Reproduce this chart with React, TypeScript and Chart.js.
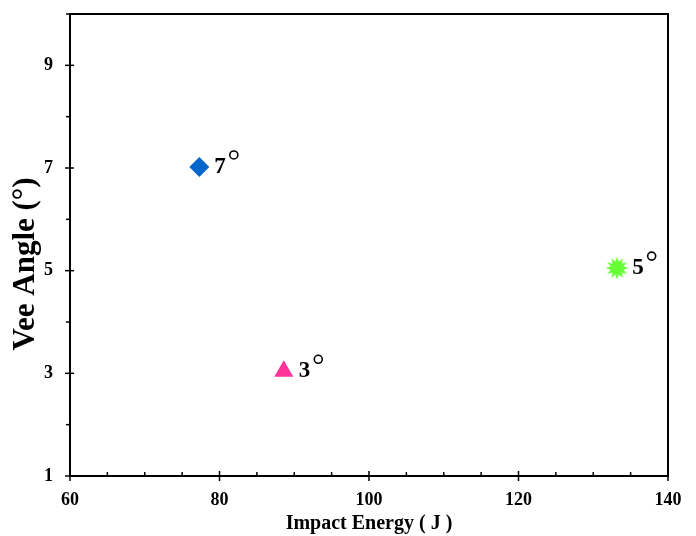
import React, { useEffect, useRef } from "react";
import { Chart, registerables } from "chart.js";

Chart.register(...registerables);

const seriesNames = ["7°", "3°", "5°"];
const labelTexts = ["7", "3", "5"];
const impactEnergy = [77.3, 88.6, 133.2];
const veeAngle = [7.02, 3.04, 5.05];
const colors = ["#0066CC", "#FF3399", "#66FF33"];
const xTickLabels = [60, 80, 100, 120, 140];
const yTickLabels = [1, 3, 5, 7, 9];
const yTitle = "Vee Angle (°)";
const xTitle = "Impact Energy ( J )";

const SERIF = "'Liberation Serif', 'Times New Roman', serif";

function makeStar(color: string): HTMLCanvasElement {
  const c = document.createElement("canvas");
  c.width = 26;
  c.height = 26;
  const ctx = c.getContext("2d")!;
  const cx = 13, cy = 13, ro = 11.5, ri = 6.5, n = 12;
  ctx.beginPath();
  for (let i = 0; i < n * 2; i++) {
    const r = i % 2 === 0 ? ro : ri;
    const a = (Math.PI * i) / n - Math.PI / 2;
    const px = cx + r * Math.cos(a);
    const py = cy + r * Math.sin(a);
    if (i === 0) ctx.moveTo(px, py);
    else ctx.lineTo(px, py);
  }
  ctx.closePath();
  ctx.fillStyle = color;
  ctx.fill();
  return c;
}

const framePlugin = {
  id: "frame",
  afterDraw(chart: any) {
    const { ctx, chartArea: a, scales } = chart;
    const xs = scales.x, ys = scales.y;
    ctx.save();
    ctx.strokeStyle = "#000";
    ctx.lineWidth = 2;
    ctx.strokeRect(a.left, a.top, a.right - a.left, a.bottom - a.top);
    ctx.lineWidth = 1.5;
    // x ticks
    for (let v = 60; v <= 140; v += 5) {
      const px = xs.getPixelForValue(v);
      const major = v % 20 === 0;
      ctx.beginPath();
      ctx.moveTo(px, a.bottom + (major ? 5 : 0));
      ctx.lineTo(px, a.bottom - (major ? 5 : 4));
      ctx.stroke();
    }
    // y ticks
    for (let v = 1; v <= 10; v += 1) {
      const py = ys.getPixelForValue(v);
      const major = v % 2 === 1;
      ctx.beginPath();
      ctx.moveTo(a.left + (major ? 4 : 0), py);
      ctx.lineTo(a.left - (major ? 5 : 4), py);
      ctx.stroke();
    }
    // y title
    ctx.save();
    ctx.translate(34, 264);
    ctx.rotate(-Math.PI / 2);
    ctx.font = `bold 31px ${SERIF}`;
    ctx.fillStyle = "#000";
    ctx.textAlign = "center";
    ctx.textBaseline = "alphabetic";
    ctx.fillText(yTitle, 0, 0);
    ctx.restore();
    // point labels
    chart.data.datasets.forEach((ds: any, i: number) => {
      const meta = chart.getDatasetMeta(i);
      const el = meta.data[0];
      if (!el) return;
      const tx = el.x + 15;
      const ty = el.y + 6;
      ctx.font = `bold 23px ${SERIF}`;
      ctx.fillStyle = "#000";
      ctx.textAlign = "left";
      ctx.textBaseline = "alphabetic";
      ctx.fillText(labelTexts[i], tx, ty);
      const w = ctx.measureText(labelTexts[i]).width;
      ctx.beginPath();
      ctx.lineWidth = 1.6;
      ctx.arc(tx + w + 8, el.y - 12, 4, 0, Math.PI * 2);
      ctx.stroke();
    });
    ctx.restore();
  },
};

export default function App() {
  const ref = useRef<HTMLCanvasElement>(null);
  useEffect(() => {
    document.body.style.margin = "0";
    const stars = makeStar(colors[2]);
    const chart = new Chart(ref.current!, {
      type: "scatter",
      data: {
        datasets: seriesNames.map((name, i) => ({
          label: name,
          data: [{ x: impactEnergy[i], y: veeAngle[i] }],
          backgroundColor: colors[i],
          borderColor: colors[i],
          borderWidth: 0,
          pointStyle: i === 0 ? "rectRot" : i === 1 ? "triangle" : (stars as any),
          pointRadius: i === 0 ? 10 : i === 1 ? 11 : 12,
        })),
      },
      options: {
        animation: false,
        responsive: false,
        layout: { padding: { left: 0, right: 28, top: 14, bottom: 0 } },
        plugins: { legend: { display: false }, tooltip: { enabled: false } },
        scales: {
          x: {
            type: "linear",
            min: 60,
            max: 140,
            afterBuildTicks: (s: any) => {
              s.ticks = xTickLabels.map((v) => ({ value: v }));
            },
            afterFit: (s: any) => {
              s.height = 60;
              s.paddingLeft = 0;
              s.paddingRight = 0;
            },
            grid: { display: false },
            border: { display: false },
            ticks: {
              color: "#000",
              font: { family: SERIF, size: 18, weight: "bold" },
              padding: 6,
              maxRotation: 0,
            },
            title: {
              display: true,
              text: xTitle,
              color: "#000",
              font: { family: SERIF, size: 20, weight: "bold" },
              padding: { top: 0, bottom: 0 },
            },
          },
          y: {
            type: "linear",
            min: 1,
            max: 10,
            afterBuildTicks: (s: any) => {
              s.ticks = yTickLabels.map((v) => ({ value: v }));
            },
            afterFit: (s: any) => {
              s.width = 70;
              s.paddingTop = 0;
              s.paddingBottom = 0;
            },
            grid: { display: false },
            border: { display: false },
            ticks: {
              color: "#000",
              font: { family: SERIF, size: 18, weight: "bold" },
              padding: 9,
            },
          },
        },
      },
      plugins: [framePlugin],
    } as any);
    return () => chart.destroy();
  }, []);
  return (
    <div style={{ width: 696, height: 536, background: "#fff" }}>
      <canvas ref={ref} width={696} height={536} style={{ display: "block" }} />
    </div>
  );
}
